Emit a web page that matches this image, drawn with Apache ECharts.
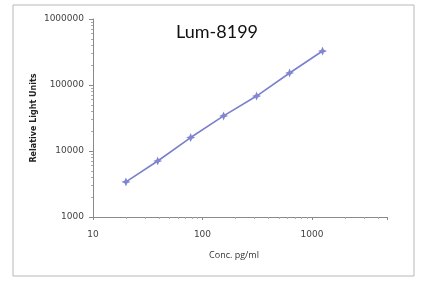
<!DOCTYPE html>
<html><head><meta charset="utf-8">
<script src="https://cdn.jsdelivr.net/npm/echarts@6/dist/echarts.min.js"></script>
<style>html,body{margin:0;padding:0;background:#fff}#c{width:430px;height:292px}</style>
</head><body><div id="c"></div>
<script>
const concentrations = [20, 39, 78, 156, 312, 625, 1250];
const rlu = [3400, 7050, 16000, 34000, 68000, 152000, 327000];
const xTickLabels = ['10', '100', '1000'];
const yTickLabels = ['1000', '10000', '100000', '1000000'];
const titleText = 'Lum-8199';
const xName = 'Conc. pg/ml';
const yName = 'Relative Light Units';

const chart = echarts.init(document.getElementById('c'), null, {renderer: 'canvas'});
const star = 'path://M0,-10 L3,-3 L10,0 L3,3 L0,10 L-3,3 L-10,0 L-3,-3 Z';
chart.setOption({
  animation: false,
  graphic: [{
    type: 'rect', shape: {x: 13, y: 5, width: 401, height: 271},
    style: {fill: 'none', stroke: '#b8b8b8', lineWidth: 1}, silent: true, z: -1
  }],
  title: {
    text: titleText, left: 212, top: 18, textAlign: 'center',
    textStyle: {fontFamily: 'Lato', fontSize: 18, fontWeight: 'normal', color: '#111'}
  },
  grid: {left: 93, right: 43, top: 19, bottom: 75},
  xAxis: {
    type: 'log', logBase: 10, min: 10, max: 4850,
    name: xName, nameLocation: 'middle', nameGap: 34, nameMoveOverlap: false,
    nameTextStyle: {fontFamily: 'Open Sans', fontSize: 9, color: '#333', padding: [0, 0, 0, -12]},
    axisLine: {show: true, lineStyle: {color: '#8a8a8a', width: 1}},
    axisTick: {show: true, length: 3, lineStyle: {color: '#8a8a8a'}},
    minorTick: {show: true, splitNumber: 9, length: 2, lineStyle: {color: '#aaa'}},
    axisLabel: {
      fontFamily: 'DejaVu Sans', fontSize: 9, color: '#444', margin: 13,
      formatter: v => { const s = String(Math.round(v)); return xTickLabels.includes(s) ? s : ''; }
    },
    splitLine: {show: false}
  },
  yAxis: {
    type: 'log', logBase: 10, min: 1000, max: 1000000,
    name: yName, nameLocation: 'middle', nameGap: 55, nameMoveOverlap: false,
    nameTextStyle: {fontFamily: 'DejaVu Sans', fontSize: 8, fontWeight: 'bold', color: '#222'},
    axisLine: {show: true, lineStyle: {color: '#8a8a8a', width: 1}},
    axisTick: {show: true, length: 4, lineStyle: {color: '#8a8a8a'}},
    minorTick: {show: true, splitNumber: 9, length: 2, lineStyle: {color: '#aaa'}},
    axisLabel: {
      fontFamily: 'DejaVu Sans', fontSize: 9, color: '#444', margin: 9,
      formatter: v => { const s = String(Math.round(v)); return yTickLabels.includes(s) ? s : ''; }
    },
    splitLine: {show: false}
  },
  series: [{
    type: 'line',
    data: concentrations.map((c, i) => [c, rlu[i]]),
    symbol: star, symbolSize: 9,
    itemStyle: {color: '#8086cf'},
    lineStyle: {color: '#7a80cc', width: 1.6}
  }]
});
</script></body></html>
